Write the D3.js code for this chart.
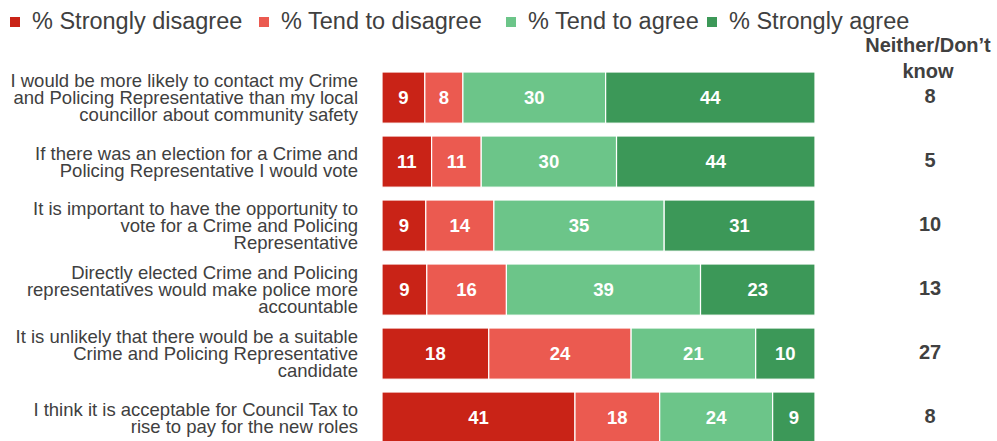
<!DOCTYPE html>
<html>
<head>
<meta charset="utf-8">
<script src="https://cdn.jsdelivr.net/npm/d3@7"></script>
<style>
  html, body { margin: 0; padding: 0; background: #fff; }
  svg { display: block; font-family: "Liberation Sans", Arial, sans-serif; }
</style>
</head>
<body>
<svg id="chart" width="997" height="441"></svg>
<script>
// Survey statements (line breaks as shown in the chart)
const categories = [
  "I would be more likely to contact my Crime\nand Policing Representative than my local\ncouncillor about community safety",
  "If there was an election for a Crime and\nPolicing Representative I would vote",
  "It is important to have the opportunity to\nvote for a Crime and Policing\nRepresentative",
  "Directly elected Crime and Policing\nrepresentatives would make police more\naccountable",
  "It is unlikely that there would be a suitable\nCrime and Policing Representative\ncandidate",
  "I think it is acceptable for Council Tax to\nrise to pay for the new roles"
];

const seriesNames = ["% Strongly disagree", "% Tend to disagree", "% Tend to agree", "% Strongly agree"];
const stronglyDisagree = [9, 11, 9, 9, 18, 41];
const tendDisagree     = [8, 11, 14, 16, 24, 18];
const tendAgree        = [30, 30, 35, 39, 21, 24];
const stronglyAgree    = [44, 44, 31, 23, 10, 9];
const neitherDontKnow  = [8, 5, 10, 13, 27, 8];
const neitherHeader    = ["Neither/Don\u2019t", "know"];

const colors = ["#C92317", "#EB5A50", "#6CC589", "#3C9858"];

const rows = categories.map((c, i) => ({
  label: c,
  values: [stronglyDisagree[i], tendDisagree[i], tendAgree[i], stronglyAgree[i]],
  neither: neitherDontKnow[i]
}));

const svg = d3.select("#chart");

// Each bar spans the full width, split in proportion to its four answers
const x = d3.scaleLinear().domain([0, 1]).range([382, 815]);
const y = d3.scaleBand()
  .domain(d3.range(rows.length))
  .range([65.6, 449.6])
  .paddingInner(0.2)
  .paddingOuter(0.1);

const rowG = svg.selectAll("g.row")
  .data(rows)
  .join("g")
  .attr("class", "row")
  .attr("transform", (d, i) => `translate(0,${y(i)})`);

rowG.each(function (d) {
  const total = d3.sum(d.values);
  let acc = 0;
  const segs = d.values.map((v, k) => {
    const s = { v, k, x0: acc / total, x1: (acc + v) / total };
    acc += v;
    return s;
  });
  const g = d3.select(this);
  g.selectAll("rect")
    .data(segs)
    .join("rect")
    .attr("x", s => x(s.x0))
    .attr("width", s => x(s.x1) - x(s.x0))
    .attr("y", 0)
    .attr("height", y.bandwidth())
    .attr("fill", s => colors[s.k])
    .attr("stroke", "#fff")
    .attr("stroke-width", 1.2);
  g.selectAll("text.val")
    .data(segs)
    .join("text")
    .attr("class", "val")
    .attr("x", s => (x(s.x0) + x(s.x1)) / 2)
    .attr("y", y.bandwidth() / 2)
    .attr("dy", "0.36em")
    .attr("text-anchor", "middle")
    .attr("fill", "#fff")
    .attr("font-weight", "bold")
    .attr("font-size", 18.5)
    .text(s => s.v);
});

// Statement labels, right-aligned and centred on each bar
const lineH = 17;
rowG.append("text")
  .attr("text-anchor", "end")
  .attr("font-size", 18.5)
  .attr("fill", "#404040")
  .each(function (d) {
    const lines = d.label.split("\n");
    const t = d3.select(this);
    const start = y.bandwidth() / 2 - (lines.length - 1) * lineH / 2;
    lines.forEach((ln, j) => {
      t.append("tspan")
        .attr("x", 358)
        .attr("y", start + j * lineH)
        .attr("dy", "0.35em")
        .text(ln);
    });
  });

// Neither / Don't know column
rowG.append("text")
  .attr("x", 930)
  .attr("y", y.bandwidth() / 2 - 2)
  .attr("dy", "0.36em")
  .attr("text-anchor", "middle")
  .attr("font-weight", "bold")
  .attr("font-size", 20)
  .attr("fill", "#404040")
  .text(d => d.neither);

svg.append("text")
  .attr("text-anchor", "middle")
  .attr("font-weight", "bold")
  .attr("font-size", 20)
  .attr("fill", "#404040")
  .selectAll("tspan")
  .data(neitherHeader)
  .join("tspan")
  .attr("x", 928)
  .attr("y", (d, i) => 45 + i * 26)
  .attr("dy", "0.36em")
  .text(d => d);

// Legend
const legendX = [10, 259, 506, 707];
const lg = svg.selectAll("g.legend")
  .data(seriesNames)
  .join("g")
  .attr("class", "legend")
  .attr("transform", (d, i) => `translate(${legendX[i]},0)`);
lg.append("rect")
  .attr("x", 0).attr("y", 17)
  .attr("width", 10).attr("height", 10)
  .attr("fill", (d, i) => colors[i]);
lg.append("text")
  .attr("x", 22)
  .attr("y", 21)
  .attr("dy", "0.35em")
  .attr("font-size", 23.5)
  .attr("fill", "#404040")
  .text(d => d);
</script>
</body>
</html>
